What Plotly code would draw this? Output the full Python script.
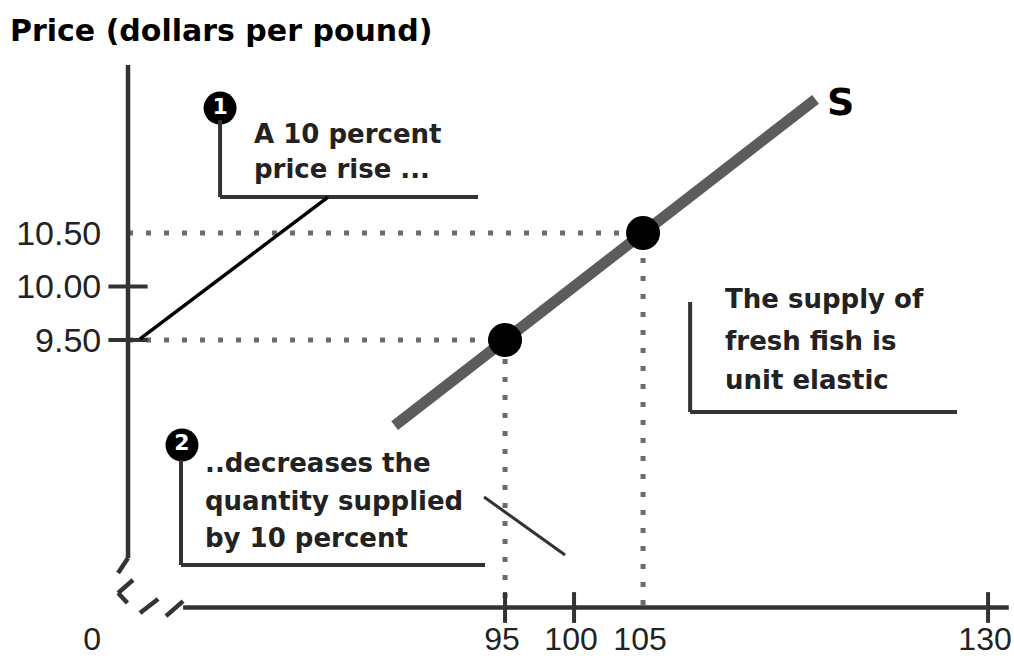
import plotly.graph_objects as go

# supply curve S (quantity in pounds, price in dollars per pound)
supply_q = [87.0, 117.5]
supply_p = [8.70, 11.75]

# the two marked points on S
point_q = [95, 105]
point_p = [9.50, 10.50]

x_ticks = [95, 100, 105, 130]
y_ticks = [9.50, 10.00, 10.50]
y_tick_text = ["9.50", "10.00", "10.50"]

note_1 = ["A 10 percent", "price rise ..."]
note_2 = ["..decreases the", "quantity supplied", "by 10 percent"]
note_3 = ["The supply of", "fresh fish is", "unit elastic"]

#============#

X_RANGE = [59.49, 131.88]
Y_RANGE = [6.472, 12.304]
AXIS_Q = 67.68     # where the price axis is drawn (axis is broken)
AXIS_P = 7.0       # where the quantity axis is drawn
ORIGIN_Q = 65.3    # where the "0" label sits

TEXT_FONT = "DejaVu Sans"
TICK_FONT = "Liberation Sans"
DARK = "#333333"

fig = go.Figure()

# dotted guide lines from the axes to the points
for q, p in zip(point_q, point_p):
    fig.add_trace(go.Scatter(x=[AXIS_Q, q, q], y=[p, p, AXIS_P], mode="lines",
                             line=dict(color="#6b6b6b", width=5, dash="5px,13px")))

# supply curve
fig.add_trace(go.Scatter(x=supply_q, y=supply_p, mode="lines",
                         line=dict(color="#5c5c5c", width=11)))
fig.add_trace(go.Scatter(x=point_q, y=point_p, mode="markers",
                         marker=dict(color="black", size=34)))

# tick marks crossing the axes
fig.add_trace(go.Scatter(x=[95, 100, 130], y=[AXIS_P] * 3, mode="markers",
                         marker=dict(symbol="line-ns", size=22, line=dict(width=4, color=DARK))))
fig.add_trace(go.Scatter(x=[AXIS_Q] * 2, y=y_ticks[:2], mode="markers",
                         marker=dict(symbol="line-ew", size=28, line=dict(width=4, color=DARK))))

# numbered callout badges
fig.add_trace(go.Scatter(x=[74.35, 71.59], y=[11.668, 8.519], mode="markers+text",
                         text=["1", "2"], textposition="middle center",
                         textfont=dict(family=TEXT_FONT, size=22, color="white", weight="bold"),
                         marker=dict(color="black", size=33)))

def seg(x0, y0, x1, y1, color=DARK, width=4):
    fig.add_shape(type="line", x0=x0, y0=y0, x1=x1, y1=y1, xref="x", yref="y",
                  line=dict(color=color, width=width))

# axes with break marks
seg(AXIS_Q, 12.07, AXIS_Q, 7.463, width=4.5)
seg(AXIS_Q, 7.463, 66.96, 7.322, width=4.5)
seg(68.04, 7.257, 66.96, 7.136, width=4.5)
seg(66.96, 7.136, 67.64, 7.042, width=4.5)
seg(68.55, 6.948, 69.86, 7.08, width=4.5)
seg(70.43, 6.92, 71.67, 7.06, width=4.5)
seg(71.67, AXIS_P, 131.5, AXIS_P, width=4.5)

# callout brackets and pointers
seg(74.35, 11.556, 74.35, 10.836)
seg(74.35, 10.836, 93.04, 10.836)
seg(68.55, 9.51, 82.17, 10.836, color="black", width=3.5)
seg(71.52, 8.379, 71.52, 7.397)
seg(71.52, 7.397, 93.55, 7.397)
seg(93.48, 8.033, 99.35, 7.49, width=3)
seg(108.41, 9.855, 108.41, 8.827)
seg(108.41, 8.827, 127.75, 8.827)

def note(lines, x, ys):
    for text, y in zip(lines, ys):
        fig.add_annotation(x=x, y=y, xref="x", yref="y", text=text, showarrow=False,
                           xanchor="left", yanchor="middle",
                           font=dict(family=TEXT_FONT, size=26, color="#222222", weight="bold"))

note(note_1, 76.67, [11.425, 11.098])
note(note_2, 73.12, [8.35, 8.0, 7.65])
note(note_3, 110.80, [9.883, 9.491, 9.131])

fig.add_annotation(x=119.28, y=11.724, xref="x", yref="y", text="S", showarrow=False,
                   font=dict(family=TEXT_FONT, size=38, color="black", weight="bold"))
fig.add_annotation(x=-0.007, y=1.016, xref="paper", yref="paper", showarrow=False,
                   text="Price (dollars per pound)", xanchor="left", yanchor="middle",
                   font=dict(family=TEXT_FONT, size=30, color="black", weight="bold"))

fig.update_layout(
    width=1014, height=664,
    margin=dict(l=15, r=0, t=40, b=0),
    plot_bgcolor="white", paper_bgcolor="white",
    showlegend=False, hovermode=False,
    xaxis=dict(range=X_RANGE, anchor="free", automargin=False, tickangle=0,
               ticklabeloverflow="allow", ticklabelshift=-3,
               position=(AXIS_P - Y_RANGE[0]) / (Y_RANGE[1] - Y_RANGE[0]),
               tickvals=[ORIGIN_Q] + x_ticks, ticktext=["0"] + [str(v) for v in x_ticks],
               ticks="outside", ticklen=3, tickcolor="rgba(0,0,0,0)",
               showgrid=False, zeroline=False, showline=False,
               tickfont=dict(family=TICK_FONT, size=32, color="#222222")),
    yaxis=dict(range=Y_RANGE, anchor="free", automargin=False,
               position=(AXIS_Q - X_RANGE[0]) / (X_RANGE[1] - X_RANGE[0]),
               tickvals=y_ticks, ticktext=y_tick_text,
               ticks="outside", ticklen=20, tickcolor="rgba(0,0,0,0)",
               showgrid=False, zeroline=False, showline=False,
               tickfont=dict(family=TICK_FONT, size=34, color="#222222")),
)

# drop the page's default body margin so the figure fills the window exactly
fig.write_html("out.html", config={"displayModeBar": False},
               post_script="document.body.style.margin='0';document.body.style.overflow='hidden';")
